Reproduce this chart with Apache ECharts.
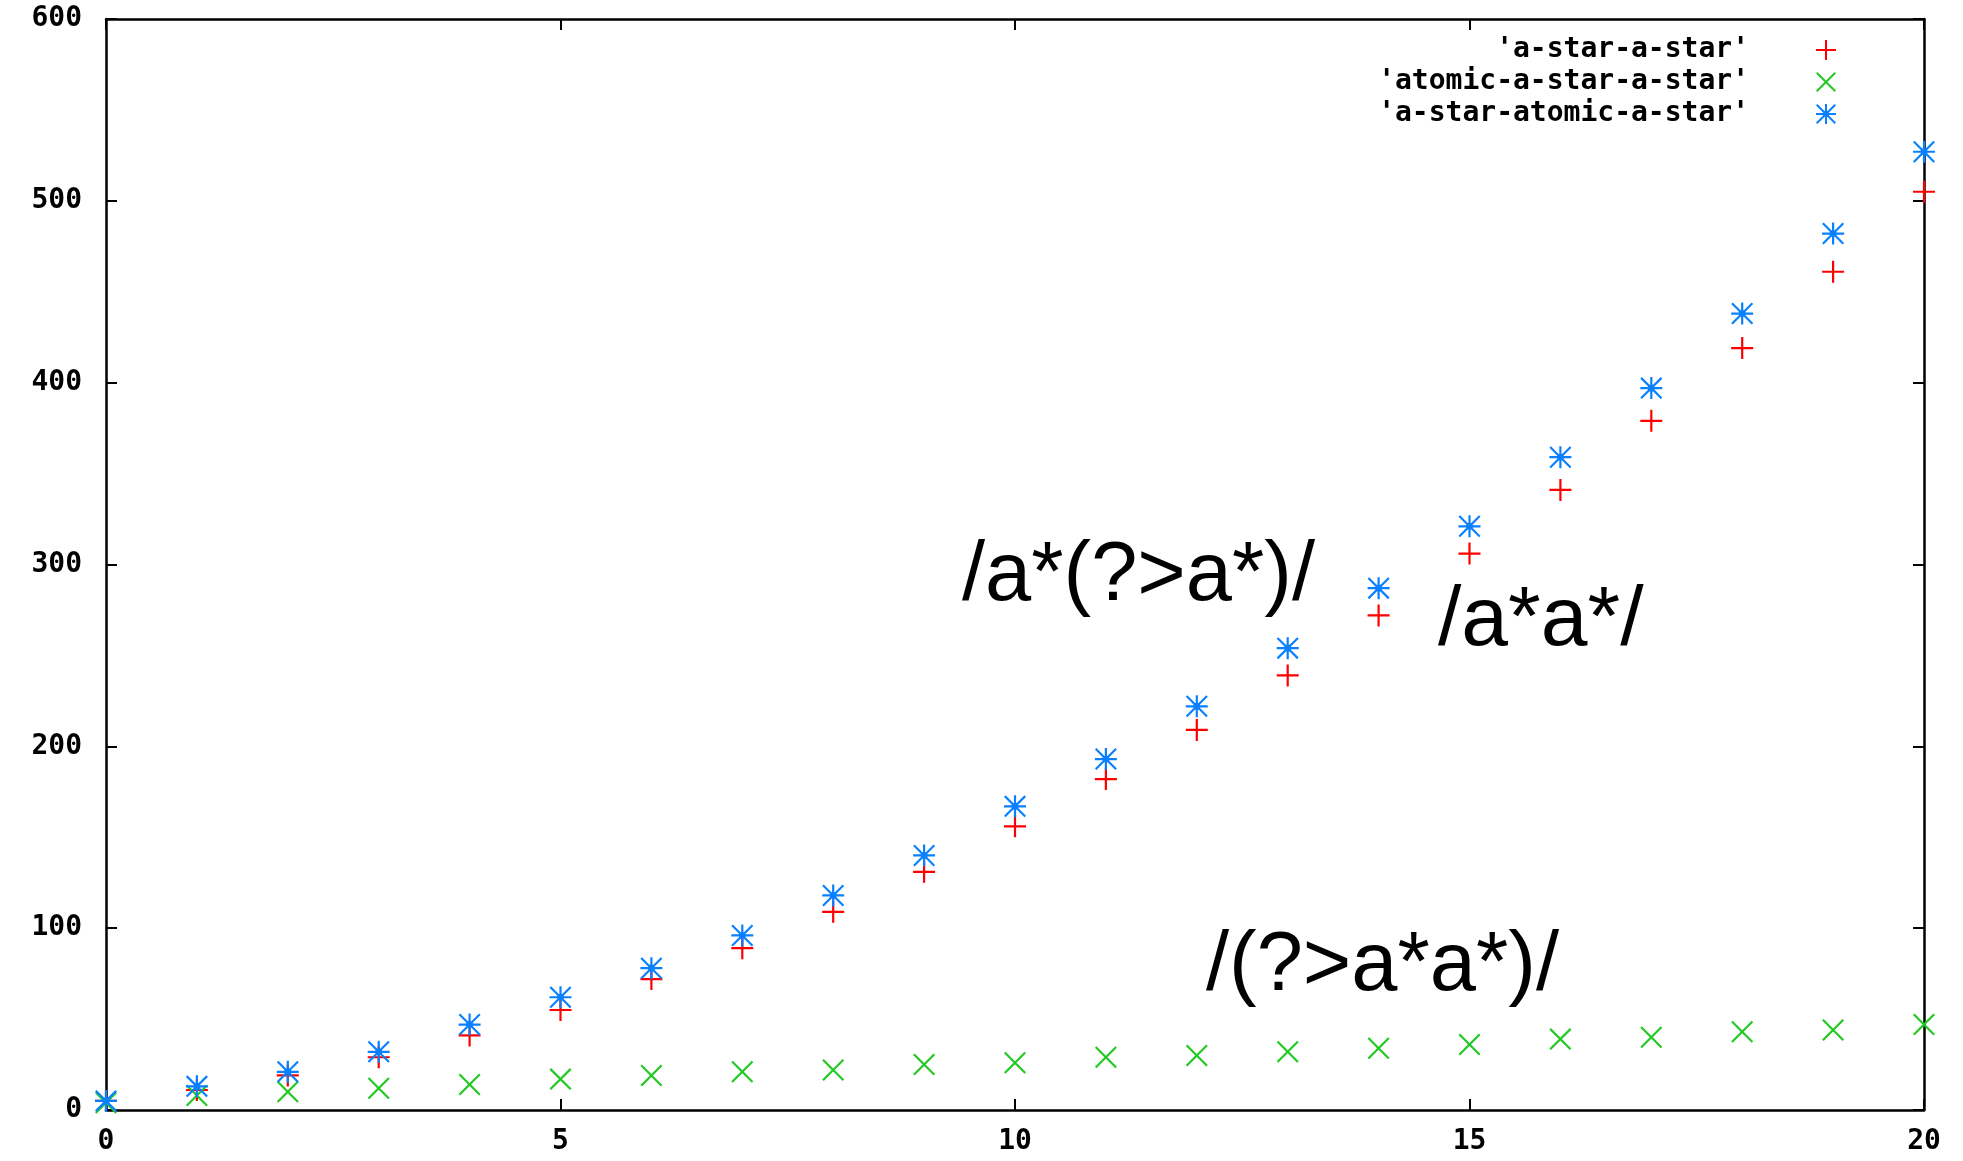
<!DOCTYPE html>
<html>
<head>
<meta charset="utf-8">
<script src="https://cdn.jsdelivr.net/npm/echarts@6/dist/echarts.min.js"></script>
<style>
  html, body { margin: 0; padding: 0; background: #fff; }
  #main { width: 1963px; height: 1161px; }
</style>
</head>
<body>
<div id="main"></div>
<script>
// data
var xs = [0, 1, 2, 3, 4, 5, 6, 7, 8, 9, 10, 11, 12, 13, 14, 15, 16, 17, 18, 19, 20];
var aStarAStar = [5, 11, 19, 29, 41, 55, 72, 89, 109, 131, 156, 182, 209, 239, 272, 306, 341, 379, 419, 461, 505];
var atomicAStarAStar = [4, 8, 10, 12, 14, 17, 19, 21, 22, 25, 26, 29, 30, 32, 34, 36, 39, 40, 43, 44, 47];
var aStarAtomicAStar = [5, 13, 21, 32, 47, 62, 78, 96, 118, 140, 167, 193, 222, 254, 287, 321, 359, 397, 438, 482, 527];
var names = ["'a-star-a-star'", "'atomic-a-star-a-star'", "'a-star-atomic-a-star'"];
var colors = ['#ff0000', '#22c922', '#0a80ff'];

var tickFont = 'DejaVu Sans Mono';

// gnuplot style point symbols
var plusPath = 'path://M0,9 L20,9 L20,11 L0,11 Z M9,0 L11,0 L11,20 L9,20 Z';
var crossPath = 'path://M0,1.4 L1.4,0 L20,18.6 L18.6,20 Z M18.6,0 L20,1.4 L1.4,20 L0,18.6 Z';
var starPath = 'path://M0,9 L20,9 L20,11 L0,11 Z M9,0 L11,0 L11,20 L9,20 Z ' +
  'M0,1.4 L1.4,0 L20,18.6 L18.6,20 Z M18.6,0 L20,1.4 L1.4,20 L0,18.6 Z M7,7 L13,7 L13,13 L7,13 Z';
var symbols = [plusPath, crossPath, starPath];

function pairs(vals) {
  return xs.map(function (x, i) { return [x, vals[i]]; });
}
var seriesVals = [aStarAStar, atomicAStarAStar, aStarAtomicAStar];

var chart = echarts.init(document.getElementById('main'));

var axisLine = { show: true, onZero: false, lineStyle: { color: '#000', width: 2.5 } };
var axisTick = { show: true, inside: true, length: 11, lineStyle: { color: '#000', width: 2 } };
var labelStyle = { color: '#000', fontFamily: tickFont, fontWeight: 'bold', fontSize: 28 };

var option = {
  backgroundColor: '#fff',
  animation: false,
  grid: { left: 106, right: 39, top: 19, bottom: 51, containLabel: false },
  xAxis: [{
    type: 'value', min: 0, max: 20, interval: 5,
    axisLine: axisLine, axisTick: axisTick,
    axisLabel: Object.assign({ margin: 18 }, labelStyle),
    splitLine: { show: false }
  }, {
    type: 'value', position: 'top', min: 0, max: 20, interval: 5,
    axisLine: axisLine, axisTick: axisTick,
    axisLabel: { show: false }, splitLine: { show: false }
  }],
  yAxis: [{
    type: 'value', min: 0, max: 600, interval: 100,
    axisLine: axisLine, axisTick: axisTick,
    axisLabel: Object.assign({ margin: 24 }, labelStyle),
    splitLine: { show: false }
  }, {
    type: 'value', position: 'right', min: 0, max: 600, interval: 100,
    axisLine: axisLine, axisTick: axisTick,
    axisLabel: { show: false }, splitLine: { show: false }
  }],
  legend: names.map(function (n, i) {
    return {
      data: [n],
      orient: 'vertical',
      right: 122,
      top: 31 + i * 32,
      align: 'right',
      itemWidth: 20,
      itemHeight: 20,
      selectedMode: false,
      textStyle: { color: '#000', fontFamily: tickFont, fontWeight: 'bold', fontSize: 28, padding: [0, 62, 0, 0] }
    };
  }),
  series: names.map(function (n, i) {
    return {
      name: n,
      type: 'scatter',
      data: pairs(seriesVals[i]),
      symbol: symbols[i],
      symbolSize: 22,
      itemStyle: { color: colors[i], opacity: 1 },
      clip: false
    };
  }),
  graphic: [
    { type: 'text', left: 962, top: 536, style: { text: '/a*(?>a*)/', font: '83px "Liberation Sans"', fill: '#000' } },
    { type: 'text', left: 1438, top: 580, style: { text: '/a*a*/', font: '84px "Liberation Sans"', fill: '#000' } },
    { type: 'text', left: 1206, top: 926, style: { text: '/(?>a*a*)/', font: '83px "Liberation Sans"', fill: '#000' } }
  ]
};

chart.setOption(option);
</script>
</body>
</html>
